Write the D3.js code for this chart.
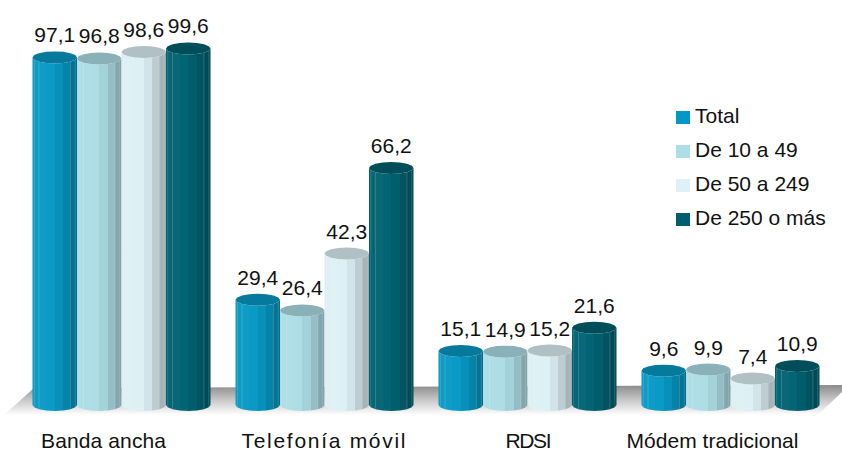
<!DOCTYPE html>
<html>
<head>
<meta charset="utf-8">
<script src="https://cdn.jsdelivr.net/npm/d3@7/dist/d3.min.js"></script>
<style>
  html, body { margin: 0; padding: 0; background: #fff; }
  svg { display: block; font-family: "Liberation Sans", Arial, sans-serif; }
</style>
</head>
<body>
<svg id="chart" width="842" height="454"></svg>
<script>
// Company ICT usage (%), by company size
const categories = ["Banda ancha", "Telefonía móvil", "RDSI", "Módem tradicional"];
const seriesNames = ["Total", "De 10 a 49", "De 50 a 249", "De 250 o más"];
const total    = [97.1, 29.4, 15.1, 9.6];
const de10a49  = [96.8, 26.4, 14.9, 9.9];
const de50a249 = [98.6, 42.3, 15.2, 7.4];
const de250    = [99.6, 66.2, 21.6, 10.9];

const seriesValues = [total, de10a49, de50a249, de250];
const colors = ["#0799C4", "#ADDDE6", "#DDF0F5", "#006271"];
const legendColors = ["#0099C6", "#ADDDE7", "#DDF1F6", "#005E6E"];

// Category label layout: horizontal shift from band centre and set width
const labelShift = [-18, -1, 1, -18];
const labelWidth = [125, 164, 46, 172];

const svg = d3.select("#chart");

const x0 = d3.scaleBand().domain(categories).range([20, 832]).padding(0);
const x1 = d3.scaleBand().domain(seriesNames).range([0, 178]).padding(0);
const y = d3.scaleLinear().domain([0, 100]).range([405, 47]);

const defs = svg.append("defs");

// Floor plane under the bars
const floorGrad = defs.append("linearGradient")
  .attr("id", "floorGrad").attr("x1", 0).attr("y1", 0).attr("x2", 0).attr("y2", 1);
floorGrad.append("stop").attr("offset", 0).attr("stop-color", "#8a8a8a");
floorGrad.append("stop").attr("offset", 0.45).attr("stop-color", "#c2c2c2");
floorGrad.append("stop").attr("offset", 1).attr("stop-color", "#ffffff");

svg.append("path")
  .attr("d", "M34,388 L842,385 L842,392 L818,415 L4,415 Z")
  .attr("fill", "url(#floorGrad)");

// Faceted cylinder geometry: 16-sided prism seen slightly from above
const N = 16;
const ry = 6;
const angles = d3.range(N + 1).map(k => k * 2 * Math.PI / N);

function shadeFactor(mid) {
  const f = 0.78 + 0.27 * Math.cos(mid - 130 * Math.PI / 180);
  return Math.max(0.72, Math.min(1.06, f));
}
function shade(color, f) {
  const c = d3.rgb(color);
  if (f >= 1) {
    const t = (f - 1) * 2;
    return d3.interpolateRgb(c, "#ffffff")(t * 0.35).toString();
  }
  return d3.rgb(c.r * f, c.g * f, c.b * f).toString();
}

// One horizontal gradient per series gives each visible facet its own tone
seriesNames.forEach((s, i) => {
  const g = defs.append("linearGradient")
    .attr("id", "body" + i).attr("x1", 0).attr("y1", 0).attr("x2", 1).attr("y2", 0);
  for (let k = N / 2 - 1; k >= 0; k--) {
    const a0 = angles[k + 1], a1 = angles[k];
    const f0 = (Math.cos(a0) + 1) / 2, f1 = (Math.cos(a1) + 1) / 2;
    const col = shade(colors[i], shadeFactor((a0 + a1) / 2));
    g.append("stop").attr("offset", f0).attr("stop-color", col);
    g.append("stop").attr("offset", f1).attr("stop-color", col);
  }
});

const bw = x1.bandwidth();
const rx = bw / 2;

const bars = [];
categories.forEach((c, ci) => {
  seriesNames.forEach((s, si) => {
    bars.push({ cat: c, series: s, si, value: seriesValues[si][ci] });
  });
});

const barG = svg.append("g");
const barSel = barG.selectAll("g.bar").data(bars).enter().append("g").attr("class", "bar");

barSel.each(function(d) {
  const g = d3.select(this);
  const cx = x0(d.cat) + (x0.bandwidth() - 178) / 2 + x1(d.series) + bw / 2;
  const yTop = y(d.value);
  const yBot = y(0);
  const lower = d3.range(N / 2, -1, -1).map(k => [cx + rx * Math.cos(angles[k]), ry * Math.sin(angles[k])]);

  // body
  const pts = lower.map(p => [p[0], yTop + p[1]])
    .concat(lower.slice().reverse().map(p => [p[0], yBot + p[1]]));
  g.append("path")
    .attr("d", d3.line()(pts) + "Z")
    .attr("fill", `url(#body${d.si})`);

  // facet edge highlights
  [N / 2 - 1, N / 2 - 2, 2, 1].forEach(k => {
    const xx = cx + rx * Math.cos(angles[k]);
    const off = ry * Math.sin(angles[k]);
    g.append("line")
      .attr("x1", xx).attr("x2", xx)
      .attr("y1", yTop + off).attr("y2", yBot + off)
      .attr("stroke", "#ffffff").attr("stroke-opacity", 0.22).attr("stroke-width", 0.8);
  });

  // top cap
  const cap = d3.range(N).map(k => [cx + rx * Math.cos(angles[k]), yTop + ry * Math.sin(angles[k])]);
  g.append("path")
    .attr("d", d3.line()(cap) + "Z")
    .attr("fill", shade(colors[d.si], 0.8));

  // value label
  g.append("text")
    .attr("x", cx)
    .attr("y", yTop - ry - 9)
    .attr("text-anchor", "middle")
    .attr("font-size", 21)
    .attr("fill", "#111")
    .text(d3.format(".1f")(d.value).replace(".", ","));
});

// Category labels
svg.append("g").selectAll("text").data(categories).enter().append("text")
  .attr("x", (d, i) => x0(d) + x0.bandwidth() / 2 + labelShift[i])
  .attr("y", 448)
  .attr("text-anchor", "middle")
  .attr("font-size", 21)
  .attr("textLength", (d, i) => labelWidth[i])
  .attr("lengthAdjust", "spacing")
  .attr("fill", "#111")
  .text(d => d);

// Legend
const legend = svg.append("g").attr("transform", "translate(676,0)");
const leg = legend.selectAll("g").data(seriesNames).enter().append("g")
  .attr("transform", (d, i) => `translate(0,${123 + i * 34})`);
leg.append("rect")
  .attr("x", 0).attr("y", -12).attr("width", 14).attr("height", 13)
  .attr("fill", (d, i) => legendColors[i]);
leg.append("text")
  .attr("x", 19).attr("y", 0)
  .attr("font-size", 21)
  .attr("fill", "#111")
  .text(d => d);
</script>
</body>
</html>
